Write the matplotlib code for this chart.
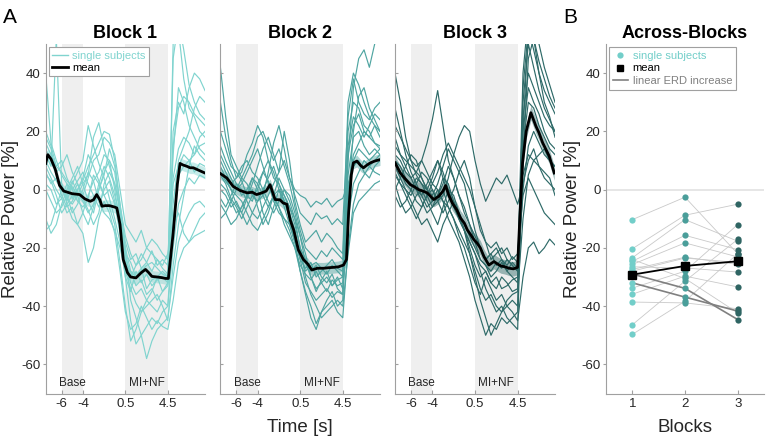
import numpy as np
import matplotlib
matplotlib.use('Agg')
import matplotlib.pyplot as plt
from matplotlib.lines import Line2D

plt.rcParams['font.family'] = ['Liberation Sans', 'DejaVu Sans']
plt.rcParams['axes.unicode_minus'] = False

# ---------------- data ----------------
# plotting time axis (s); the task window is drawn at 0..4 and labelled 0.5 / 4.5
tick_pos = [-6, -4, 0, 4]
tick_labels = ['-6', '-4', '0.5', '4.5']
base_win = (-6, -4)
task_win = (0, 4)

t_subj = [-7.5, -7, -6.5, -6, -5.5, -5, -4.5, -4, -3.5, -3, -2.5, -2, -1.5, -1, -0.5,
          0, 0.5, 1, 1.5, 2, 2.5, 3, 3.5, 4, 4.5, 5, 5.5, 6, 6.5, 7, 7.5]

block1_subj = [
    [40, 16, 10, 5, 2, -3, 0, 4, 12, 8, 3, -2, -6, -12, -25, -40, -52, -48, -42, -38, -35, -30, -28, -30, 12, 35, 30, 22, 18, 14, 12],
    [12, 8, 52, 2, -4, 2, 6, 10, 22, 15, 9, 4, -3, -10, -18, -30, -35, -28, -32, -29, -33, -31, -30, -32, 50, 55, 38, 28, 25, 20, 18],
    [16, 12, 8, 6, 3, 1, -2, 2, 5, 18, 23, 14, 8, 2, -8, -20, -28, -33, -31, -36, -34, -38, -35, -33, -5, 10, 15, 20, 28, 32, 30],
    [18, 14, 5, -2, -6, -4, 0, 3, 8, 12, 16, 20, 19, 10, -5, -22, -30, -26, -22, -25, -28, -24, -27, -29, 2, 8, 12, 10, 6, 9, 8],
    [5, 3, -2, -8, -5, -10, -12, -8, -2, 3, 6, 12, 10, 0, -12, -30, -45, -53, -50, -47, -44, -46, -42, -40, -20, -5, 0, 4, 2, 5, 4],
    [-10, -15, -12, -5, 0, 4, 8, 2, -4, -8, 0, 5, 14, 8, -5, -16, -22, -26, -24, -20, -22, -24, -26, -22, -12, -8, -15, -18, -14, -10, -8],
    [10, 6, 3, 0, -3, -5, -2, -8, -12, -6, 2, 8, 4, -2, -10, -20, -38, -44, -50, -58, -52, -48, -46, -44, -30, -18, -12, -8, -5, -4, -6],
    [2, 0, -5, -3, -8, -6, -12, -15, -25, -20, -10, -4, -8, -15, -28, -42, -48, -46, -40, -44, -48, -45, -47, -48, -38, -25, -20, -18, -16, -15, -14],
    [14, 10, 6, 8, 12, 6, 2, -2, 4, 10, 12, 18, 16, 12, 0, -12, -15, -18, -14, -20, -17, -19, -22, -24, 15, 28, 32, 30, 26, 24, 22],
    [8, 4, 0, -3, 2, 0, -4, -6, -3, 5, 2, -2, 0, -5, -15, -25, -28, -30, -27, -34, -31, -30, -35, -32, 20, 30, 26, 35, 40, 38, 34],
    [0, -4, -8, -6, -2, 3, -1, -4, -8, -5, 0, 6, 10, 6, -8, -24, -32, -36, -34, -38, -40, -42, -38, -40, -10, 5, 8, 10, 12, 18, 20],
    [20, 15, 8, 10, 4, 0, 3, 6, 2, -2, -6, 0, 3, -4, -12, -22, -25, -30, -28, -26, -25, -27, -29, -30, 45, 58, 48, 36, 30, 26, 24],
    [-14, -12, -6, 0, -2, -8, -5, 0, 6, 3, -4, -8, -10, -14, -20, -28, -34, -39, -42, -40, -38, -36, -40, -45, -26, -12, -2, 8, 15, 12, 10],
    [6, 2, 4, 2, -5, -2, 2, -3, -7, -12, -8, 2, 6, 2, -6, -18, -24, -22, -27, -25, -21, -26, -24, -26, 4, 14, 18, 16, 12, 15, 16],
]

block2_subj = [
    [42, 25, 12, 8, 4, 2, -2, 0, 6, 3, -3, -6, -10, -14, -20, -28, -35, -40, -46, -42, -38, -35, -40, -38, 10, 35, 45, 48, 42, 50, 52],
    [30, 18, 10, 4, 6, 12, 16, 22, 18, 10, 4, 2, -2, -6, -10, -16, -22, -30, -35, -31, -28, -33, -30, -34, -5, 20, 32, 35, 28, 24, 20],
    [8, 4, 0, -5, -8, -3, 2, 8, 14, 18, 12, 6, 20, 10, -4, -12, -18, -16, -14, -18, -15, -17, -20, -22, 30, 40, 36, 30, 25, 22, 18],
    [5, 2, -3, -6, -10, -6, -2, -4, -2, 6, 16, 22, 14, 4, 0, -2, -3, -6, -4, -5, -3, -6, -4, -3, 2, 8, 10, 6, 4, 8, 10],
    [-5, -8, -12, -10, -6, -2, 4, 0, -8, -12, -6, 0, -4, -10, -18, -28, -36, -44, -48, -42, -40, -38, -42, -44, -20, -5, 2, 5, 8, 6, 5],
    [12, 8, 4, 0, 2, 6, 10, 14, 8, 2, -4, -8, -10, -12, -18, -24, -27, -25, -30, -28, -26, -24, -27, -28, 15, 25, 22, 18, 22, 26, 24],
    [0, -2, -6, -4, -8, -12, -8, -4, 0, 4, 8, 2, -4, -8, -14, -24, -32, -35, -38, -36, -34, -37, -35, -36, 0, 10, 14, 12, 10, 12, 14],
    [15, 10, 6, 2, -2, 0, 4, 2, -2, -6, -2, 4, 0, -4, -10, -20, -30, -36, -40, -44, -42, -40, -38, -40, -22, -8, -4, -2, 0, 2, 3],
    [-10, -8, -4, 0, 4, 8, 12, 18, 20, 15, 10, 14, 8, 2, -6, -14, -20, -22, -24, -21, -23, -20, -22, -24, 20, 30, 28, 22, 20, 16, 15],
    [6, 3, 0, -2, -4, -8, -12, -14, -10, -6, -2, -6, -12, -16, -20, -26, -29, -31, -28, -32, -30, -33, -31, -30, 5, 18, 20, 15, 12, 14, 12],
    [20, 14, 8, 6, 3, -2, -4, 2, 6, 10, 6, 0, -2, -6, -12, -20, -24, -28, -26, -30, -32, -29, -34, -36, -10, 2, 6, 10, 8, 10, 12],
    [-3, -6, -2, 2, 0, -4, -8, -10, -6, -2, 2, 6, 10, 4, -2, -8, -10, -12, -8, -10, -9, -12, -10, -12, 25, 38, 30, 26, 24, 28, 30],
    [10, 6, 2, 4, 8, 10, 6, 4, 0, -4, -8, -4, 0, -2, -8, -16, -25, -30, -34, -32, -35, -31, -33, -32, 0, 12, 16, 20, 18, 16, 14],
    [2, 0, -4, -8, -6, -2, 0, -6, -12, -8, -2, 0, -6, -12, -18, -22, -28, -26, -25, -27, -29, -26, -28, -30, 12, 22, 26, 20, 18, 22, 20],
]

block3_subj = [
    [40, 30, 18, 10, 5, 2, 0, 4, 10, 6, 0, -5, -10, -14, -18, -22, -28, -34, -38, -42, -40, -44, -46, -48, 20, 55, 58, 50, 42, 36, 30],
    [18, 12, 8, 4, 6, 10, 16, 24, 34, 22, 10, 4, -2, -8, -12, -16, -20, -24, -22, -26, -24, -28, -25, -27, 30, 50, 42, 34, 28, 24, 20],
    [10, 6, 2, 0, -4, -6, -2, 2, 0, -4, -6, -10, -14, -18, -22, -30, -38, -44, -50, -46, -42, -40, -38, -40, 10, 45, 52, 40, 30, 25, 18],
    [5, 2, 0, -2, 2, 6, 4, 0, -4, -2, 4, 12, 18, 22, 20, 10, 2, -4, 0, 4, 2, 5, 0, -5, 2, 10, 14, 8, 4, 2, 0],
    [12, 10, 6, 4, 0, -4, -8, -6, -2, 4, 2, -4, -8, -12, -16, -20, -24, -26, -30, -28, -25, -28, -30, -32, 25, 40, 35, 30, 25, 22, 20],
    [2, -4, -8, -6, -2, 0, -4, -8, -12, -6, 0, -2, -8, -14, -22, -28, -34, -38, -36, -40, -42, -38, -36, -35, -10, 5, 10, 12, 14, 10, 8],
    [15, 12, 10, 8, 6, 4, 0, -2, 2, 8, 14, 10, 6, 2, -6, -14, -20, -24, -22, -20, -24, -26, -23, -25, 15, 30, 28, 22, 18, 14, 12],
    [-2, -6, -4, 0, 4, 2, -2, -6, -4, 0, -6, -10, -16, -20, -26, -32, -36, -30, -34, -38, -36, -40, -42, -45, -30, -20, -18, -22, -20, -17, -19],
    [22, 18, 14, 10, 8, 10, 6, 2, 6, 12, 16, 12, 8, 4, 0, -6, -12, -18, -24, -22, -20, -24, -26, -28, 40, 60, 52, 44, 38, 32, 28],
    [8, 4, 0, -4, -8, -12, -10, -14, -18, -12, -8, -4, -10, -14, -18, -22, -26, -28, -32, -30, -34, -33, -31, -30, 0, 15, 20, 16, 12, 10, 8],
    [0, 4, 8, 12, 10, 4, 0, -4, -2, 2, 8, 4, -2, -6, -12, -18, -24, -26, -28, -25, -27, -24, -26, -28, 5, 12, 10, 8, 6, 4, -2],
    [28, 20, 12, 6, 2, -2, -6, -4, 0, -4, -10, -14, -18, -24, -30, -38, -44, -50, -46, -48, -44, -46, -44, -42, 35, 55, 48, 40, 34, 30, 26],
    [6, 2, -2, -6, -10, -6, -2, 0, -4, -8, -4, 0, 6, 10, 4, -6, -14, -18, -20, -18, -22, -20, -24, -22, -2, 4, 0, -4, -8, -10, -12],
    [10, 8, 4, 2, 0, -2, 2, 6, 10, 4, -2, -6, -10, -14, -20, -26, -30, -28, -32, -34, -30, -32, -35, -34, 20, 35, 30, 26, 20, 16, 14],
]

# grand-average curves (time, value)
block1_mean_t = [-7.5, -7.3, -7.0, -6.6, -6.2, -5.8, -5.0, -4.3, -3.8, -3.3, -3.0, -2.7, -2.4, -2.2, -1.9, -1.5,
                 -1.0, -0.8, -0.5, -0.2, 0.2, 0.5, 1.0, 1.5, 1.9, 2.2, 2.5, 3.0, 3.4, 3.8, 4.05, 4.5, 4.9, 5.15,
                 5.4, 5.8, 6.1, 6.4, 7.0, 7.5]
block1_mean_v = [9, 12, 10.5, 7, 1.5, -0.5, -1.4, -1.7, -3.2, -4, -3.5, -1.7, -3.5, -5.7, -5.5, -5.5,
                 -6.0, -6.3, -12, -24, -28.5, -30, -30.3, -28.5, -27.4, -28.5, -29.8, -30, -30.2, -30.5, -30.5, -15, 2, 9,
                 8.5, 8, 7.5, 7.5, 6.5, 5.7]
block2_mean_t = [-7.5, -6.9, -6.3, -5.65, -5.0, -4.5, -4.1, -3.6, -3.2, -2.83, -2.36, -1.9, -1.6, -1.26, -0.95, -0.6,
                 -0.17, 0.3, 0.7, 1.1, 1.6, 2.2, 2.7, 3.1, 3.6, 4.07, 4.35, 4.55, 4.8, 5.0, 5.33, 5.7, 5.95, 6.3,
                 6.6, 7.0, 7.5]
block2_mean_v = [5.5, 4, 1.1, -0.3, -1.1, -0.9, -1.7, -1.1, -0.5, 1.7, -3.4, -3.5, -4.6, -5, -10.3, -14,
                 -20.7, -24, -25.5, -27.6, -27, -27, -26.8, -26.7, -26.5, -25.9, -24, -8, 5, 9.2, 9.8, 8.2, 7.5, 8.5,
                 9.2, 9.8, 10.3]
block3_mean_t = [-7.5, -7.0, -6.5, -6.06, -5.6, -5.28, -4.9, -4.49, -3.86, -3.4, -3.0, -2.76, -2.45, -2.13, -1.7, -1.35,
                 -1.0, -0.72, -0.4, -0.1, 0.2, 0.5, 0.84, 1.3, 1.78, 2.1, 2.42, 2.8, 3.2, 3.6, 3.99, 4.2, 4.46, 4.8,
                 5.24, 5.71, 6.0, 6.34, 6.96, 7.43]
block3_mean_v = [9.2, 5.7, 3.5, 1.7, 0.8, 0, -0.5, -1.1, -3.4, -2.3, -0.5, 1.4, -2, -4.6, -7, -9.8,
                 -11.5, -13.8, -15.5, -17.2, -18.4, -20, -23, -25.9, -24.7, -25.5, -26.2, -26.5, -27, -27.2, -26.7, -10, 9.2, 20,
                 26.4, 21.8, 19.5, 16.1, 11.5, 5.7]
block_sem = [2.0, 2.0, 2.5]

# across-blocks: mean ERD in the task window per subject
blocks = [1, 2, 3]
erd_b1 = [-10.3, -20.3, -23.4, -24.6, -25.7, -27.4, -29.0, -32.0, -33.8, -35.9, -38.6, -46.4, -49.7, -26.5, -24.0, -28.0]
erd_b2 = [-2.6, -8.8, -10.3, -15.7, -18.3, -23.2, -33.9, -36.9, -28.0, -29.7, -38.9, -31.4, -38.3, -26.9, -30.5, -23.5]
erd_b3 = [-22.0, -5.0, -17.7, -20.6, -23.1, -25.7, -44.6, -41.7, -12.0, -33.4, -40.9, -17.1, -22.0, -28.3, -42.3, -25.0]
linear_increase = [6, 7]  # subjects whose ERD grows from block to block
erd_mean = [-29.2, -26.2, -24.6]

# ---------------- style ----------------
trace_cols = ['#80d4cf', '#4fa5a1', '#2e6a68']
dot_cols = ['#72cec9', '#4a9e9a', '#2f6563']
shade = '#efefef'
spine_col = '#a0a0a0'
txt_col = '#262626'

W, H = 767, 437
fig = plt.figure(figsize=(W / 100, H / 100), dpi=100)


def box(l, t, r, b):
    return [l / W, 1 - b / H, (r - l) / W, (b - t) / H]


def style_axes(ax, left_labels=True, ydir='out'):
    for s in ['top', 'right']:
        ax.spines[s].set_visible(False)
    for s in ['left', 'bottom']:
        ax.spines[s].set_color(spine_col)
        ax.spines[s].set_linewidth(0.8)
    ax.tick_params(axis='x', direction='in', length=3, color=spine_col, labelsize=9.5, labelcolor=txt_col, pad=3)
    ax.tick_params(axis='y', direction=ydir, length=2.5, color=spine_col, labelsize=9.5, labelcolor=txt_col,
                   labelleft=left_labels, pad=1.5)
    ax.set_ylim(-70, 50)
    ax.set_yticks([-60, -40, -20, 0, 20, 40])


ts_axes = [fig.add_axes(box(45.7, 44, 205, 393.5)),
           fig.add_axes(box(220.4, 44, 380, 393.5)),
           fig.add_axes(box(395, 44, 555, 393.5))]
subj_all = [block1_subj, block2_subj, block3_subj]
means_t = [block1_mean_t, block2_mean_t, block3_mean_t]
means_v = [block1_mean_v, block2_mean_v, block3_mean_v]

for i, ax in enumerate(ts_axes):
    ax.axvspan(*base_win, color=shade, lw=0, zorder=0)
    ax.axvspan(*task_win, color=shade, lw=0, zorder=0)
    ax.axhline(0, color='#e4e4e4', lw=1.3, zorder=0.5)
    for tr in subj_all[i]:
        ax.plot(t_subj, tr, color=trace_cols[i], lw=0.85, zorder=1)
    mv = np.array(means_v[i])
    ax.fill_between(means_t[i], mv - block_sem[i], mv + block_sem[i], color=trace_cols[i],
                    alpha=0.45, lw=0, zorder=2)
    ax.plot(means_t[i], mv, color='black', lw=2.0, zorder=3)
    ax.set_xlim(-7.5, 7.5)
    ax.set_xticks(tick_pos)
    ax.set_xticklabels(tick_labels)
    style_axes(ax, left_labels=(i == 0), ydir='out' if i == 0 else 'in')
    ax.text(np.mean(base_win), -66.3, 'Base', ha='center', va='center', fontsize=8.5, color=txt_col)
    ax.text(np.mean(task_win), -66.3, 'MI+NF', ha='center', va='center', fontsize=8.5, color=txt_col)
    ax.set_title('Block %d' % (i + 1), fontsize=13, fontweight='bold', pad=4)

ts_axes[0].set_ylabel('Relative Power [%]', fontsize=13.5, color=txt_col)
ts_axes[0].yaxis.set_label_coords(-0.165, 0.5)
ts_axes[1].set_xlabel('Time [s]', fontsize=13.5, color=txt_col, labelpad=7)

leg1 = ts_axes[0].legend(handles=[Line2D([], [], color=trace_cols[0], lw=1),
                                  Line2D([], [], color='black', lw=2)],
                         labels=['single subjects', 'mean'], loc='upper left', fontsize=8,
                         frameon=True, fancybox=False, framealpha=1, edgecolor=spine_col,
                         handlelength=1.4, handletextpad=0.4, borderpad=0.3, labelspacing=0.2,
                         borderaxespad=0.3)
leg1.get_frame().set_linewidth(0.8)
leg1.get_texts()[0].set_color(trace_cols[0])

# ---------------- across blocks ----------------
axb = fig.add_axes(box(606, 44, 764, 393.5))
axb.axhline(0, color='#e4e4e4', lw=1.3, zorder=0.5)
for k in range(len(erd_b1)):
    vals = [erd_b1[k], erd_b2[k], erd_b3[k]]
    if k in linear_increase:
        axb.plot(blocks, vals, color='#808080', lw=1.2, zorder=2)
    else:
        axb.plot(blocks, vals, color='#c9c9c9', lw=0.6, zorder=1)
for j, vals in enumerate([erd_b1, erd_b2, erd_b3]):
    axb.plot([blocks[j]] * len(vals), vals, 'o', color=dot_cols[j], ms=4.5, mew=0, zorder=3)
axb.plot(blocks, erd_mean, '-s', color='black', lw=1.3, ms=5.5, zorder=4)
axb.set_xlim(0.5, 3.5)
axb.set_xticks(blocks)
style_axes(axb, left_labels=True, ydir='out')
axb.set_title('Across-Blocks', fontsize=13, fontweight='bold', pad=4)
axb.set_ylabel('Relative Power [%]', fontsize=13.5, color=txt_col)
axb.yaxis.set_label_coords(-0.158, 0.5)
axb.set_xlabel('Blocks', fontsize=13.5, color=txt_col, labelpad=7)

leg2 = axb.legend(handles=[Line2D([], [], ls='none', marker='o', color=dot_cols[0], ms=4.5, mew=0),
                           Line2D([], [], ls='none', marker='s', color='black', ms=4.5),
                           Line2D([], [], color='#808080', lw=1.2)],
                  labels=['single subjects', 'mean', 'linear ERD increase'], loc='upper left', fontsize=8,
                  frameon=True, fancybox=False, framealpha=1, edgecolor=spine_col,
                  handlelength=1.4, handletextpad=0.4, borderpad=0.3, labelspacing=0.25,
                  borderaxespad=0.3)
leg2.get_frame().set_linewidth(0.8)
leg2.get_texts()[0].set_color(dot_cols[0])
leg2.get_texts()[2].set_color('#808080')

fig.text(3 / W, 1 - 23 / H, 'A', fontsize=15, va='baseline', ha='left')
fig.text(563 / W, 1 - 23 / H, 'B', fontsize=15, va='baseline', ha='left')

fig.savefig('out.png', dpi=100)
